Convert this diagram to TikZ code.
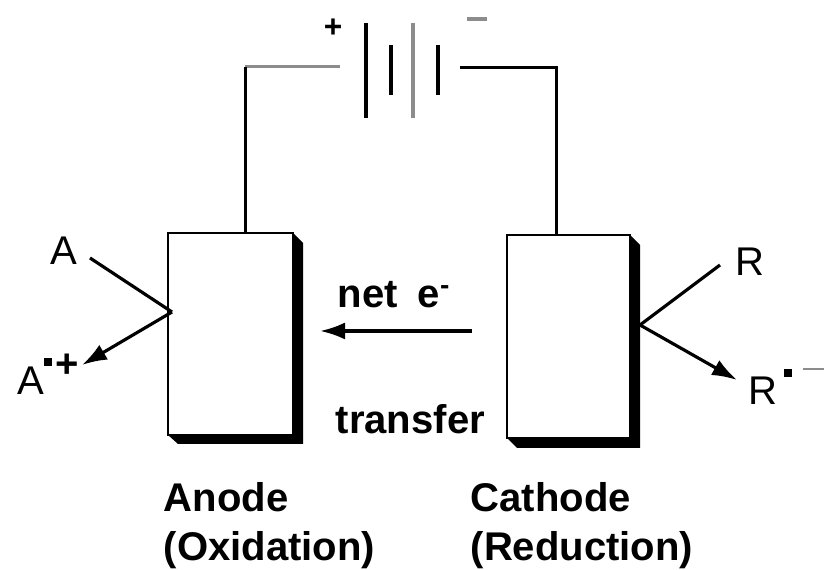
\documentclass[tikz,border=0pt]{standalone}
\usepackage{fontspec}
\setmainfont{Liberation Sans}
\usepackage{tikz}
\usetikzlibrary{arrows.meta,positioning,calc}
\definecolor{WireGray}{RGB}{140, 140, 140}
\tikzset{
  electrode/.style={draw, fill=white, line width=0.7pt, inner sep=0pt, minimum width=1.24cm, minimum height=2.03cm},
  wire/.style={line width=0.85pt},
  plate/.style={line width=1pt},
  react/.style={line width=0.9pt},
  flow/.style={line width=0.9pt, -{Latex[length=2.5mm,width=1.7mm]}},
  species/.style={font=\fontsize{11.4}{13}\selectfont, inner sep=0pt, anchor=base west},
  caption/.style={font=\fontsize{11.4}{13}\selectfont\bfseries, inner sep=0pt, anchor=base west}
}
\begin{document}
\begin{tikzpicture}
  \useasboundingbox (0, 0) rectangle (8.24, 5.70);

  % Shadows behind the electrodes
  \fill[black] (1.74, 3.37) -- (2.93, 3.37) -- (3.03, 3.27) -- (3.03, 1.26) -- (1.78, 1.26) -- (1.68, 1.35) -- cycle;
  \fill[black] (5.12, 3.35) -- (6.30, 3.35) -- (6.40, 3.25) -- (6.40, 1.22) -- (5.17, 1.22) -- (5.07, 1.32) -- cycle;

  % Electrodes
  \node[electrode, minimum width=1.25cm, minimum height=2.02cm] (anode) at (2.305, 2.36) {};
  \node[electrode, minimum width=1.23cm, minimum height=2.03cm] (cathode) at (5.685, 2.335) {};

  % Battery plates
  \foreach \x/\top/\bot/\shade in {3.66/5.47/4.52/black, 3.91/5.25/4.75/black, 4.13/5.47/4.52/WireGray, 4.38/5.25/4.75/black} {
    \draw[plate, \shade] (\x, \top) -- (\x, \bot);
  }
  \node[font=\fontsize{9}{10}\selectfont\bfseries, inner sep=0pt] (plus) at (3.33, 5.42) {+};
  \draw[WireGray, line width=1.1pt] (4.67, 5.51) -- (4.87, 5.51);

  % Wires to the battery
  \coordinate (wireL) at (3.40, 5.03);
  \coordinate (wireR) at (4.60, 5.02);
  \draw[wire, WireGray] (wireL) -- (2.45, 5.03);
  \draw[wire] (2.45, 5.03) -- (anode.north -| 2.45, 0);
  \draw[wire] (wireR) -- (5.56, 5.02) -- (cathode.north -| 5.56, 0);

  % Anode side
  \coordinate (anodeHit) at (1.72, 2.58);
  \node[species] (A) at (0.50, 3.05) {A};
  \node[species] (Acat) at (0.17, 1.75) {A\rule[0.29cm]{0.08cm}{0.08cm}\hspace{0.03cm}\raisebox{0.17cm}{\textbf{+}}};
  \coordinate (Ain) at (0.90, 3.12);
  \coordinate (Aout) at (0.82, 2.05);
  \draw[react] (Ain) -- (anodeHit);
  \draw[flow] (anodeHit) -- (Aout);

  % Cathode side
  \coordinate (cathodeHit) at (6.40, 2.45);
  \node[species] (R) at (7.35, 2.94) {R};
  \node[species] (Ran) at (7.48, 1.65) {R};
  \fill[black] (7.84, 1.93) rectangle (7.92, 2.01);
  \draw[WireGray, line width=0.7pt] (8.03, 2.01) -- (8.24, 2.01);
  \coordinate (Rin) at (7.20, 3.05);
  \coordinate (Rout) at (7.37, 1.90);
  \draw[react] (Rin) -- (cathodeHit);
  \draw[flow] (cathodeHit) -- (Rout);

  % Electron transfer
  \node[caption] (net) at (3.37, 2.62) {net\hspace{0.2cm}e\textsuperscript{-}};
  \node[caption] (transfer) at (3.35, 1.36) {transfer};
  \coordinate (netStart) at (4.72, 2.39);
  \coordinate (netEnd) at (3.20, 2.39);
  \draw[flow] (netStart) -- (netEnd);

  % Captions
  \node[caption] (anodeName) at (1.63, 0.58) {Anode};
  \node[caption] (anodeRole) at (1.63, 0.09) {(Oxidation)};
  \node[caption] (cathodeName) at (4.70, 0.58) {Cathode};
  \node[caption] (cathodeRole) at (4.70, 0.09) {(Reduction)};
\end{tikzpicture}
\end{document}
